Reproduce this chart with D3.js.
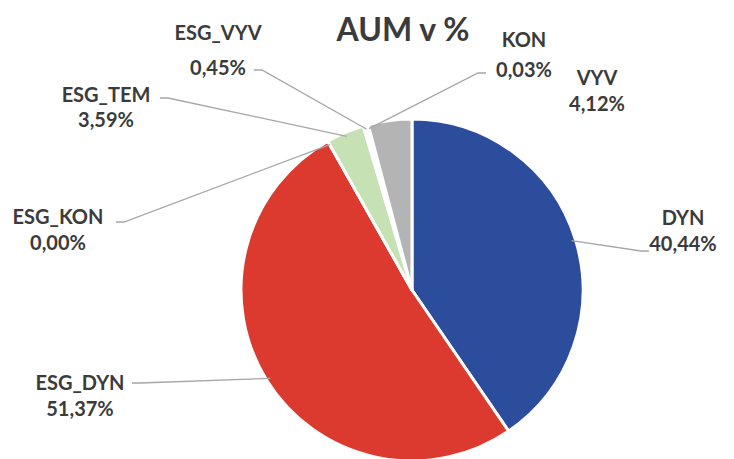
<!DOCTYPE html>
<html>
<head>
<meta charset="utf-8">
<script src="https://cdn.jsdelivr.net/npm/d3@7"></script>
<style>
    body { margin: 0; background: #fff; }
    svg { display: block; }
    text { font-family: Lato, "Open Sans", sans-serif; font-weight: bold; fill: #3b3b3b; }
</style>
</head>
<body>
<svg width="734" height="459"></svg>
<script>
// data, clockwise from 12 o'clock
const categories = ["DYN", "ESG_DYN", "ESG_KON", "ESG_TEM", "ESG_VYV", "KON", "VYV"];
const shares = [40.44, 51.37, 0.00, 3.59, 0.45, 0.03, 4.12];
const labelsPct = ["40,44%", "51,37%", "0,00%", "3,59%", "0,45%", "0,03%", "4,12%"];
const colors = ["#2c4c9c", "#dc3a2e", "#e8e8e8", "#c6e2b4", "#ffffff", "#f0f0f0", "#b4b4b4"];

// label layout: centre x, first line y, second line y, leader end point (null = no leader)
const labelLayout = {
    "DYN":     {x: 683, y1: 225, y2: 251, end: [649, 251]},
    "ESG_DYN": {x: 80,  y1: 390, y2: 416, end: [132, 383]},
    "ESG_KON": {x: 58,  y1: 224, y2: 250, end: [116, 222]},
    "ESG_TEM": {x: 106, y1: 102, y2: 127, end: [160, 98]},
    "ESG_VYV": {x: 218, y1: 40,  y2: 75,  end: [254, 70]},
    "KON":     {x: 524, y1: 47,  y2: 77,  end: [486, 73]},
    "VYV":     {x: 597, y1: 85,  y2: 111, end: null}
};

const svg = d3.select("svg");
const cx = 412, cy = 290, r = 171;

const data = categories.map((c, i) => ({name: c, value: shares[i], pct: labelsPct[i], color: colors[i]}));

const pie = d3.pie().value(d => d.value).sort(null);
const arcs = pie(data);
const arc = d3.arc().innerRadius(0).outerRadius(r);

const g = svg.append("g").attr("transform", `translate(${cx},${cy})`);

g.selectAll("path.slice")
    .data(arcs)
    .enter()
    .append("path")
    .attr("class", "slice")
    .attr("d", arc)
    .attr("fill", d => d.data.color)
    .attr("stroke", "#fff")
    .attr("stroke-width", 3)
    .attr("stroke-linejoin", "round");

// leader lines
const edgeArc = d3.arc().innerRadius(r - 4).outerRadius(r - 4);
arcs.forEach(a => {
    const lay = labelLayout[a.data.name];
    if (!lay.end) return;
    const p = edgeArc.centroid(a);
    const start = [p[0] + cx, p[1] + cy];
    const end = lay.end;
    const dir = end[0] < start[0] ? 1 : -1;
    const bend = [end[0] + dir * 8, end[1]];
    svg.append("path")
        .attr("d", d3.line()([start, bend, end]))
        .attr("fill", "none")
        .attr("stroke", "#a6a6a6")
        .attr("stroke-width", 1.3);
});

// labels
arcs.forEach(a => {
    const lay = labelLayout[a.data.name];
    const t = svg.append("g");
    t.append("text")
        .attr("x", lay.x).attr("y", lay.y1)
        .attr("text-anchor", "middle")
        .attr("font-size", 20)
        .text(a.data.name);
    t.append("text")
        .attr("x", lay.x).attr("y", lay.y2)
        .attr("text-anchor", "middle")
        .attr("font-size", 20)
        .text(a.data.pct);
});

// title
svg.append("text")
    .attr("x", 403).attr("y", 41)
    .attr("text-anchor", "middle")
    .attr("font-size", 32)
    .text("AUM v %");
</script>
</body>
</html>
